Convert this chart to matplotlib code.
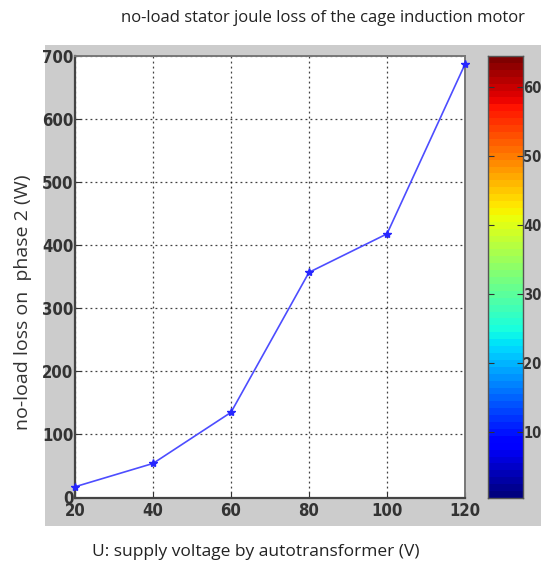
import numpy as np
import matplotlib
matplotlib.use("Agg")
import matplotlib.pyplot as plt
from matplotlib.patches import Rectangle

voltage = [20, 40, 60, 80, 100, 120]
loss = [17, 54, 135, 357, 418, 687]
x_ticks = [20, 40, 60, 80, 100, 120]
y_ticks = [0, 100, 200, 300, 400, 500, 600, 700]
cbar_ticks = [10, 20, 30, 40, 50, 60]

title = "no-load stator joule loss of the cage induction motor"
xlabel = "U: supply voltage by autotransformer (V)"
ylabel = "no-load loss on  phase 2 (W)"

W, H = 541, 569
fig = plt.figure(figsize=(W / 100, H / 100), dpi=100)
fig.patch.set_facecolor("white")

def fx(px):
    return px / W

def fy(py):
    return 1 - py / H

text_font = "Open Sans"
tick_kw = dict(fontfamily="DejaVu Sans", fontstretch="condensed",
               fontweight="bold", color="#333333")

# gray MATLAB figure panel
fig.patches.append(Rectangle((fx(45), fy(526)), fx(541 - 45), (526 - 45) / H,
                             transform=fig.transFigure, facecolor="#cccccc",
                             edgecolor="none", zorder=-10))

ax = fig.add_axes([fx(75), fy(497.5), fx(465 - 75), (497.5 - 56) / H])
ax.set_facecolor("white")
ax.plot(voltage, loss, color=(0.3, 0.3, 1.0), lw=1.2, marker="*", ms=6,
        mec=(0.15, 0.15, 1.0), mfc=(0.15, 0.15, 1.0), zorder=3, clip_on=False)
ax.set_xlim(20, 120)
ax.set_ylim(0, 700)
ax.set_xticks(x_ticks)
ax.set_yticks(y_ticks)
ax.grid(True, color="black", linestyle=(0, (1.5, 2.5)), linewidth=0.9, alpha=0.75)
ax.tick_params(direction="in", length=4, width=0.8, colors="#333333",
               top=False, right=False)
ax.tick_params(axis="x", pad=3)
ax.tick_params(axis="y", pad=1)
for lab in ax.get_xticklabels() + ax.get_yticklabels():
    lab.set(fontsize=12, **tick_kw)
for s in ["left", "bottom"]:
    ax.spines[s].set_color("#444444")
    ax.spines[s].set_linewidth(1.6)
for s in ["top", "right"]:
    ax.spines[s].set_color("#777777")
    ax.spines[s].set_linewidth(1.4)

# colorbar
cax = fig.add_axes([fx(488), fy(498), fx(522.5 - 488), (498 - 56) / H])
grad = np.arange(1, 65).reshape(-1, 1)
cax.imshow(grad, cmap=plt.get_cmap("jet", 64), aspect="auto", origin="lower",
           extent=[0, 1, 0.5, 64.5], interpolation="nearest")
cax.set_xticks([])
cax.yaxis.tick_right()
cax.set_yticks(cbar_ticks)
cax.tick_params(direction="in", length=4, width=0.8, colors="#333333",
                left=True, right=True, pad=0.5)
for lab in cax.get_yticklabels():
    lab.set(fontsize=10.5, **tick_kw)
for s in cax.spines.values():
    s.set_color("#555555")
    s.set_linewidth(1.0)

fig.text(fx(323), fy(18), title, ha="center", va="center",
         fontfamily=text_font, fontsize=12, color="#222222")
fig.text(fx(256), fy(552), xlabel, ha="center", va="center",
         fontfamily=text_font, fontsize=12.5, color="#222222")
fig.text(fx(23), fy(302), ylabel, ha="center", va="center", rotation=90,
         fontfamily=text_font, fontsize=14, color="#333333")

fig.savefig("out.png", dpi=100)
